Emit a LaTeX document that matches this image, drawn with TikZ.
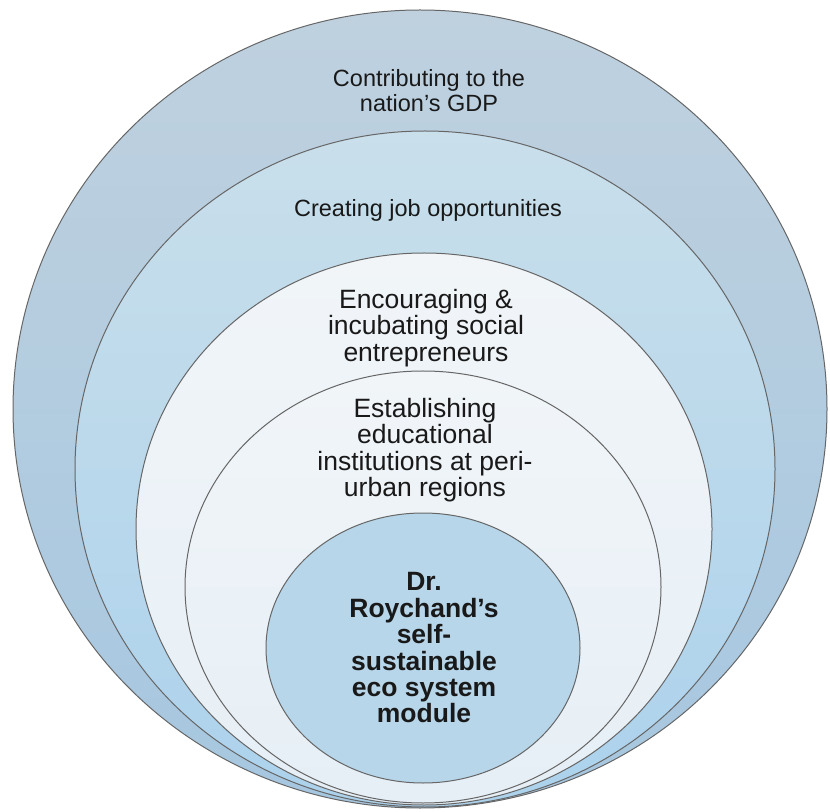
\documentclass[tikz,border=0pt]{standalone}
\usepackage{fontspec}
\setmainfont{Liberation Sans}
\usepackage{tikz}
\usepackage{xcolor}
\usetikzlibrary{positioning}

\definecolor{gdpTop}{HTML}{BFD1DF}
\definecolor{gdpBot}{HTML}{A6C7E0}
\definecolor{jobTop}{HTML}{C9DFEB}
\definecolor{jobBot}{HTML}{ACD2EC}
\definecolor{paleTop}{HTML}{F1F5F8}
\definecolor{paleBot}{HTML}{E6EFF6}
\definecolor{coreFill}{HTML}{B7D6EA}

\begin{document}
\begin{tikzpicture}[x=0.5pt, y=-0.5pt, ring/.style={draw=black!60, line width=0.5pt}, txt/.style={align=center, inner sep=0pt, text=black!90, font=\fontsize{13.25}{13.2}\selectfont}, smalltxt/.style={txt, font=\fontsize{11.75}{12.5}\selectfont}]

        \useasboundingbox (0,0) rectangle (830,812);

        % rings, outside in
        \path[ring, top color=gdpTop, bottom color=gdpBot] (420,409) ellipse [x radius=407, y radius=399];
        \path[ring, top color=jobTop, bottom color=jobBot] (425,469) ellipse [x radius=350, y radius=338];
        \path[ring, top color=paleTop, bottom color=paleBot] (424,529) ellipse [x radius=288, y radius=276];
        \path[ring, top color=paleTop, bottom color=paleBot] (423,587) ellipse [x radius=238, y radius=216];
        \path[ring, fill=coreFill] (423,648) ellipse [x radius=157, y radius=135];

        \node[smalltxt] (gdp) at (429,91) {Contributing to the\\nation's GDP};
        \node[smalltxt] (jobs) at (428,210) {Creating job opportunities};
        \node[txt] (social) at (426,328) {Encouraging \&\\incubating social\\entrepreneurs};
        \node[txt] (edu) at (425,450) {Establishing\\educational\\institutions at peri-\\urban regions};
        \node[txt, font=\bfseries\fontsize{13.25}{13.2}\selectfont] (core) at (424,648) {Dr.\\Roychand's\\self-\\sustainable\\eco system\\module};

    \end{tikzpicture}
\end{document}
